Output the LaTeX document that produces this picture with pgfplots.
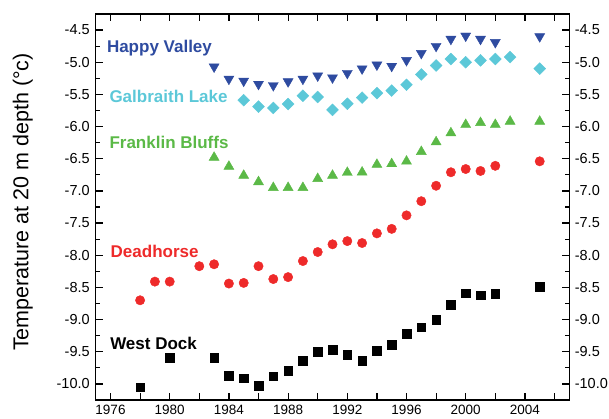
\documentclass[border=0pt]{standalone}
\usepackage{pgfplots}
\pgfplotsset{compat=1.18}
\usepackage{fontspec}
\setmainfont{Liberation Sans}
\definecolor{hvblue}{HTML}{2E4BA0}
\definecolor{glcyan}{HTML}{5CC8D8}
\definecolor{fbgreen}{HTML}{5BB947}
\definecolor{dhred}{HTML}{EE2A2A}
\begin{document}
\begin{tikzpicture}
\pgfplotsset{
  base/.style={
    width=473.6pt, height=386pt, scale only axis,
    xmin=1975, xmax=2007, ymin=-10.25, ymax=-4.25,
    /pgf/number format/assume math mode=true,
    ytick={-10,-9.5,-9,-8.5,-8,-7.5,-7,-6.5,-6,-5.5,-5,-4.5},
    yticklabel style={font=\fontsize{14.5}{16}\selectfont,
      /pgf/number format/fixed, /pgf/number format/fixed zerofill,
      /pgf/number format/precision=1, /pgf/number format/assume math mode=true},
  }
}
\begin{axis}[base, name=main,
  axis line style={line width=1.5pt},
  xtick={1976,1978,...,2006},
  xticklabels={1976,,1980,,1984,,1988,,1992,,1996,,2000,,2004,},
  xticklabel style={font=\fontsize{13.5}{15}\selectfont, yshift=-1.5pt},
  yticklabel style={xshift=-2.5pt},
  minor y tick num=1,
  major tick length=7pt, minor tick length=4pt,
  tick style={line width=1.2pt, black},
  tick align=inside,
  xtick pos=both, ytick pos=both,
]
% Happy Valley
\addplot[only marks, mark=triangle*, mark size=5.8pt, color=hvblue,
  mark options={rotate=180, fill=hvblue, draw=hvblue}] coordinates {
(1983,-5.07) (1984,-5.26) (1985,-5.29) (1986,-5.34) (1987,-5.36) (1988,-5.30)
(1989,-5.26) (1990,-5.21) (1991,-5.24) (1992,-5.17) (1993,-5.10) (1994,-5.04)
(1995,-5.06) (1996,-4.97) (1997,-4.86) (1998,-4.75) (1999,-4.64) (2000,-4.59)
(2001,-4.64) (2002,-4.69) (2005,-4.60)};
% Galbraith Lake
\addplot[only marks, mark=square*, mark size=4.2pt, color=glcyan,
  mark options={rotate=45, fill=glcyan, draw=glcyan}] coordinates {
(1985,-5.59) (1986,-5.69) (1987,-5.71) (1988,-5.65) (1989,-5.52) (1990,-5.54)
(1991,-5.74) (1992,-5.645) (1993,-5.55) (1994,-5.48) (1995,-5.44) (1996,-5.35)
(1997,-5.19) (1998,-5.05) (1999,-4.95) (2000,-5.00) (2001,-4.97) (2002,-4.95)
(2003,-4.92) (2005,-5.10)};
% Franklin Bluffs
\addplot[only marks, mark=triangle*, mark size=5.8pt, color=fbgreen,
  mark options={fill=fbgreen, draw=fbgreen}] coordinates {
(1983,-6.48) (1984,-6.62) (1985,-6.76) (1986,-6.86) (1987,-6.95) (1988,-6.95)
(1989,-6.95) (1990,-6.81) (1991,-6.76) (1992,-6.715) (1993,-6.71) (1994,-6.59)
(1995,-6.58) (1996,-6.54) (1997,-6.39) (1998,-6.24) (1999,-6.10) (2000,-5.97)
(2001,-5.94) (2002,-5.97) (2003,-5.92) (2005,-5.92)};
% Deadhorse
\addplot[only marks, mark=*, mark size=4.7pt, color=dhred,
  mark options={fill=dhred, draw=dhred}] coordinates {
(1978,-8.70) (1979,-8.41) (1980,-8.41) (1982,-8.17) (1983,-8.14) (1984,-8.44)
(1985,-8.43) (1986,-8.17) (1987,-8.37) (1988,-8.34) (1989,-8.09) (1990,-7.95)
(1991,-7.83) (1992,-7.78) (1993,-7.81) (1994,-7.66) (1995,-7.59) (1996,-7.38)
(1997,-7.16) (1998,-6.92) (1999,-6.71) (2000,-6.66) (2001,-6.69) (2002,-6.61)
(2005,-6.54)};
% West Dock
\addplot[only marks, mark=square*, mark size=4.3pt, color=black,
  mark options={fill=black, draw=black}] coordinates {
(1978,-10.05) (1980,-9.59) (1983,-9.59) (1984,-9.87) (1985,-9.91) (1986,-10.03)
(1987,-9.88) (1988,-9.79) (1989,-9.64) (1990,-9.50) (1991,-9.47) (1992,-9.55)
(1993,-9.64) (1994,-9.48) (1995,-9.39) (1996,-9.22) (1997,-9.12) (1998,-9.00)
(1999,-8.77) (2000,-8.59) (2001,-8.62) (2002,-8.60) (2005,-8.49)};
\begin{scope}[font=\bfseries\fontsize{17}{20}\selectfont]
\node[anchor=base west, text=hvblue, inner sep=0pt] at (axis cs:1975.75,-4.855) {Happy Valley};
\node[anchor=base west, text=glcyan, inner sep=0pt] at (axis cs:1975.92,-5.63) {Galbraith Lake};
\node[anchor=base west, text=fbgreen, inner sep=0pt] at (axis cs:1975.92,-6.345) {Franklin Bluffs};
\node[anchor=base west, text=dhred, inner sep=0pt] at (axis cs:1976.0,-8.03) {Deadhorse};
\node[anchor=base west, text=black, inner sep=0pt] at (axis cs:1975.97,-9.47) {West Dock};
\end{scope}
\end{axis}
\begin{axis}[base,
  hide x axis,
  axis y line*=right,
  y axis line style={draw=none},
  ytick style={draw=none},
  yticklabel style={xshift=2pt},
]
\addplot[draw=none] coordinates {(1980,-8)};
\end{axis}
\node[rotate=90, font=\fontsize{21.5}{24}\selectfont] at ([xshift=-73pt,yshift=5pt]main.west) {Temperature at 20 m depth (°c)};
\pgfresetboundingbox
\path[use as bounding box] ([xshift=-95.7pt,yshift=-19pt]main.south west) rectangle ([xshift=39.7pt,yshift=14pt]main.north east);
\end{tikzpicture}
\end{document}
